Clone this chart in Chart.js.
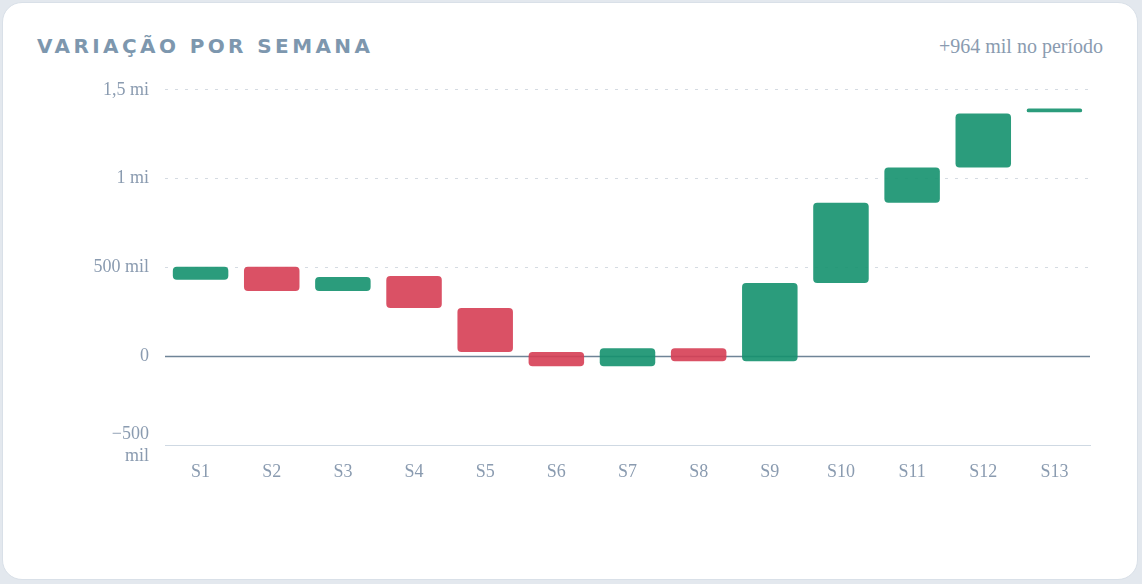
<!DOCTYPE html>
<html>
<head>
<meta charset="utf-8">
<script src="https://cdn.jsdelivr.net/npm/chart.js@4"></script>
<style>
  body { margin: 0; background: #e3e8ee; width: 1142px; height: 584px; overflow: hidden; }
  .card { position: absolute; left: 2px; top: 2px; width: 1134px; height: 576px; background: #fff;
          border-radius: 20px; border: 1px solid #d9e0e8; }
  .title { position: absolute; left: 34px; top: 31px; font: bold 20px "DejaVu Sans"; letter-spacing: 3.4px; color: #7d97ae; }
  .note { position: absolute; right: 34px; top: 32px; font: 20px "Liberation Serif"; color: #8a9bb0; }
  #chart { position: absolute; left: -5px; top: 60px; }
</style>
</head>
<body>
<div class="card">
  <div class="title">VARIAÇÃO POR SEMANA</div>
  <div class="note">+964 mil no período</div>
  <canvas id="chart" width="1102" height="440"></canvas>
</div>
<script>
const weeks = ['S1','S2','S3','S4','S5','S6','S7','S8','S9','S10','S11','S12','S13'];
// start and end of each week's cumulative balance (mil)
const startValues = [430, 503, 367, 452, 271, 23, -56, 45, -28, 412, 864, 1062, 1373];
const endValues   = [503, 367, 446, 271, 23, -56, 45, -28, 412, 864, 1062, 1367, 1395];

const ranges = weeks.map((w, i) => [startValues[i] * 1000, endValues[i] * 1000]);
const colors = weeks.map((w, i) => endValues[i] >= startValues[i] ? 'rgba(20,145,110,0.9)' : 'rgba(214,62,84,0.9)');

function fmt(v) {
  if (v === 0) return '0';
  if (Math.abs(v) >= 1000000) return (v / 1000000).toString().replace('.', ',') + ' mi';
  if (v < 0) return ['\u2212' + Math.abs(v / 1000), 'mil'];
  return (v / 1000) + ' mil';
}

const tickFont = { family: 'Liberation Serif', size: 18 };
new Chart(document.getElementById('chart'), {
  type: 'bar',
  data: {
    labels: weeks,
    datasets: [{
      data: ranges,
      backgroundColor: colors,
      borderRadius: 4,
      borderSkipped: false,
      categoryPercentage: 0.78,
      barPercentage: 1,
    }],
  },
  options: {
    responsive: false,
    animation: false,
    layout: { padding: { top: 0, right: 10 } },
    plugins: { legend: { display: false }, tooltip: { enabled: false } },
    scales: {
      x: {
        grid: { display: false },
        border: { color: '#cfd9e3' },
        ticks: { color: '#8a9bb0', font: tickFont, padding: 8 },
        afterFit: (s) => { s.height = 58; },
      },
      y: {
        min: -500000, max: 1500000,
        afterFit: (s) => { s.width = 167; },
        border: { display: false, dash: [3, 7] },
        grid: {
          color: (c) => c.tick.value <= 0 ? 'rgba(0,0,0,0)' : '#d5dbe2',
          drawTicks: false,
        },
        ticks: { stepSize: 500000, color: '#8a9bb0', font: tickFont, padding: 16, callback: fmt },
      },
    },
  },
  plugins: [{
    id: 'zeroLine',
    beforeDatasetsDraw(chart) {
      const { ctx, chartArea, scales } = chart;
      const y = Math.round(scales.y.getPixelForValue(0)) + 0.5;
      ctx.save();
      ctx.strokeStyle = '#6f8497';
      ctx.lineWidth = 1.5;
      ctx.beginPath();
      ctx.moveTo(chartArea.left, y);
      ctx.lineTo(chartArea.right, y);
      ctx.stroke();
      ctx.restore();
    },
  }],
});
</script>
</body>
</html>
